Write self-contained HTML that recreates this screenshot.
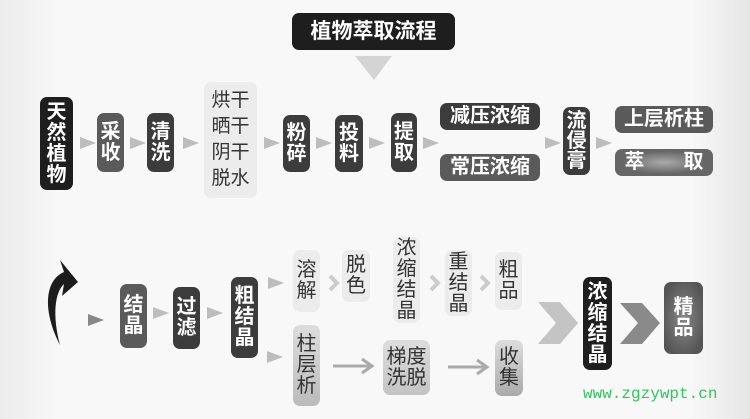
<!DOCTYPE html>
<html><head><meta charset="utf-8"><style>
body{margin:0;width:750px;height:419px;overflow:hidden;background:#f4f4f4;font-family:"Liberation Sans","Noto Sans CJK SC",sans-serif;}
#c{position:relative;width:750px;height:419px;background:linear-gradient(90deg,#ececec 0,#f8f8f8 8%,#f8f8f8 92%,#e6e6e6 100%);}
.b{position:absolute;display:flex;align-items:center;justify-content:center;text-align:center;color:#fff;font-weight:bold;font-size:20px;line-height:21px;border-radius:7px;box-sizing:border-box;}
.k{background:#1e1e1e;}
.d{background:#3c3c3c;}
.g{background:#5a5a5a;}
.l{background:#ececec;color:#333;font-weight:normal;}
.a{position:absolute;width:0;height:0;border-top:6px solid transparent;border-bottom:6px solid transparent;border-left:16px solid #bdbdbd;}
</style></head><body><div id="c">
<div class="b k" style="left:292px;top:13px;width:163px;height:37px;font-size:21px;">植物萃取流程</div>
<svg style="position:absolute;left:0;top:0" width="750" height="419">
<polygon points="355,56 392,56 374,80" fill="#d4d4d4"/>
<path d="M60,345 C42,310 45,280 64,272 L60,260 L78,282 L62,296 L64,284 C55,292 52,315 60,345 Z" fill="#1c1c1c"/>
<polygon points="538,302 560,302 578,323 560,344 538,344 556,323" fill="#c4c4c4"/>
<polygon points="620,303 642,303 660,323 642,344 620,344 638,323" fill="#8a8a8a"/>
<path d="M333,366 H371 M362,359 L372,366 L362,373" stroke="#aaa" stroke-width="3" fill="none"/>
<path d="M448,367 H486 M477,360 L487,367 L477,374" stroke="#aaa" stroke-width="3" fill="none"/>
<path d="M330,276 L337,283 L330,290 M431,276 L438,283 L431,290 M481,276 L488,283 L481,290" stroke="#ccc" stroke-width="4" fill="none"/>
</svg>
<div class="b k" style="left:40px;top:97px;width:33px;height:93px;">天<br>然<br>植<br>物</div>
<div class="a" style="left:80px;top:137px"></div>
<div class="b g" style="left:97px;top:113px;width:27px;height:59px;">采<br>收</div>
<div class="a" style="left:130px;top:137px"></div>
<div class="b d" style="left:147px;top:113px;width:27px;height:59px;">清<br>洗</div>
<div class="a" style="left:183px;top:137px"></div>
<div class="b l" style="left:204px;top:82px;width:53px;height:116px;font-size:19px;line-height:26px;">烘干<br>晒干<br>阴干<br>脱水</div>
<div class="a" style="left:264px;top:137px"></div>
<div class="b d" style="left:283px;top:115px;width:27px;height:57px;">粉<br>碎</div>
<div class="a" style="left:316px;top:137px"></div>
<div class="b d" style="left:335px;top:115px;width:28px;height:57px;">投<br>料</div>
<div class="a" style="left:369px;top:137px"></div>
<div class="b d" style="left:391px;top:113px;width:26px;height:59px;">提<br>取</div>
<div class="a" style="left:423px;top:137px"></div>
<div class="b d" style="left:440px;top:103px;width:100px;height:27px;">减压浓缩</div>
<div class="b g" style="left:440px;top:154px;width:100px;height:27px;">常压浓缩</div>
<div class="a" style="left:545px;top:137px"></div>
<div class="b d" style="left:563px;top:107px;width:27px;height:68px;line-height:20px;">流<br>侵<br>膏</div>
<div class="a" style="left:596px;top:137px"></div>
<div class="b g" style="left:615px;top:106px;width:98px;height:27px;">上层析柱</div>
<div class="b" style="left:615px;top:149px;width:98px;height:27px;background:radial-gradient(ellipse at center,#aaa 0,#666 60%);">萃&nbsp;&nbsp;&nbsp;&nbsp;&nbsp;&nbsp;&nbsp;取</div>

<div class="a" style="left:88px;top:314px;border-left-color:#888"></div>
<div class="b g" style="left:120px;top:284px;width:27px;height:64px;">结<br>晶</div>
<div class="a" style="left:153px;top:307px"></div>
<div class="b d" style="left:173px;top:287px;width:27px;height:62px;">过<br>滤</div>
<div class="a" style="left:207px;top:307px"></div>
<div class="b d" style="left:231px;top:277px;width:27px;height:81px;">粗<br>结<br>晶</div>
<div class="a" style="left:268px;top:277px"></div>
<div class="a" style="left:267px;top:351px"></div>
<div class="b l" style="left:293px;top:250px;width:27px;height:62px;">溶<br>解</div>
<div class="b l" style="left:342px;top:250px;width:28px;height:52px;">脱<br>色</div>
<div class="b l" style="left:393px;top:237px;width:27px;height:86px;">浓<br>缩<br>结<br>晶</div>
<div class="b l" style="left:445px;top:250px;width:27px;height:66px;">重<br>结<br>晶</div>
<div class="b l" style="left:495px;top:252px;width:27px;height:58px;">粗<br>品</div>
<div class="b l" style="left:293px;top:325px;width:27px;height:81px;background:linear-gradient(#ddd,#bbb);">柱<br>层<br>析</div>
<div class="b l" style="left:383px;top:340px;width:47px;height:55px;background:linear-gradient(#ddd,#c4c4c4);">梯度<br>洗脱</div>
<div class="b l" style="left:495px;top:340px;width:28px;height:56px;background:linear-gradient(#ddd,#aaa);">收<br>集</div>
<div class="b k" style="left:583px;top:277px;width:29px;height:93px;">浓<br>缩<br>结<br>晶</div>
<div class="b" style="left:664px;top:282px;width:39px;height:72px;background:radial-gradient(ellipse at center,#888 0,#555 80%);">精<br>品</div>
<div style="position:absolute;left:583px;top:385px;font-family:'Liberation Mono',monospace;font-size:16px;color:#2ec85a;">www.zgzywpt.cn</div>
</div></body></html>
